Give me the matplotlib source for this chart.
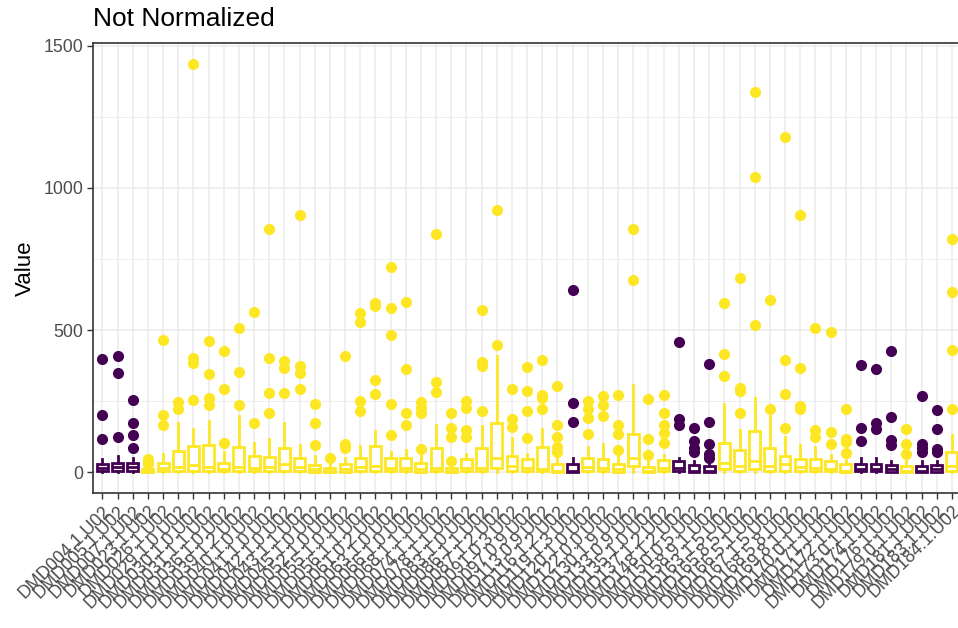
import numpy as np
import matplotlib.pyplot as plt
from matplotlib.ticker import MultipleLocator

# sample names (x axis)
samples = [
    "DMD004.1.U02", "DMD005.1.U02", "DMD007.1.U02", "DMD023.1.U02", "DMD026.1.U02",
    "DMD029.1.0.U02", "DMD030.1.0.U02", "DMD031.1.1.U02", "DMD036.1.0.U02", "DMD039.1.2.U02",
    "DMD040.1.0.U02", "DMD041.1.0.U02", "DMD042.1.0.U02", "DMD043.1.1.U02", "DMD045.1.0.U02",
    "DMD052.1.0.U02", "DMD055.1.0.U02", "DMD056.1.1.U02", "DMD061.0.2.U02", "DMD063.1.0.U02",
    "DMD066.1.0.U02", "DMD068.1.1.U02", "DMD074.1.1.U02", "DMD078.1.1.U02", "DMD083.1.0.U02",
    "DMD086.1.1.U02", "DMD087.1.2.U02", "DMD091.0.3.U02", "DMD097.0.9.U02", "DMD113.0.9.U02",
    "DMD116.1.2.U02", "DMD119.1.3.U02", "DMD120.1.0.U02", "DMD122.0.0.U02", "DMD130.1.9.U02",
    "DMD133.0.9.U02", "DMD135.1.0.U02", "DMD137.1.2.U02", "DMD148.1.2.U02", "DMD150.0.5.U02",
    "DMD158.9.1.U02", "DMD163.1.5.U02", "DMD165.8.5.U02", "DMD166.5.1.U02", "DMD167.1.5.U02",
    "DMD168.5.8.U02", "DMD169.8.1.U02", "DMD170.0.1.U02", "DMD171.1.U02", "DMD172.1.U02",
    "DMD173.0.1.U02", "DMD174.1.U02", "DMD176.1.U02", "DMD179.0.1.U02", "DMD181.1.U02",
    "DMD183.1.U02", "DMD184.1.U02",
]

# P = purple group, Y = yellow group
group = [
    "P", "P", "P", "Y", "Y", "Y", "Y", "Y", "Y", "Y",
    "Y", "Y", "Y", "Y", "Y", "Y", "Y", "Y", "Y", "Y",
    "Y", "Y", "Y", "Y", "Y", "Y", "Y", "Y", "Y", "Y",
    "Y", "P", "Y", "Y", "Y", "Y", "Y", "Y", "P", "P",
    "P", "Y", "Y", "Y", "Y", "Y", "Y", "Y", "Y", "Y",
    "P", "P", "P", "Y", "P", "P", "Y",
]

q1 = [5, 5, 5, 0, 3, 5, 5, 5, 3, 4, 4, 4, 5, 4, 2, 0, 2, 4, 5, 3,
      3, 2, 4, 0, 3, 4, 16, 4, 3, 4, 0, 0, 4, 3, 2, 22, 0, 3, 4, 0,
      0, 10, 5, 12, 4, 5, 4, 4, 3, 0, 3, 3, 2, 0, 0, 2, 5]
med = [15, 18, 18, 3, 14, 18, 25, 20, 12, 20, 14, 18, 28, 18, 10, 3, 10, 18, 22, 14,
       14, 10, 16, 3, 16, 16, 51, 22, 14, 12, 5, 5, 18, 14, 10, 51, 5, 14, 14, 5,
       5, 32, 22, 38, 22, 30, 18, 14, 12, 5, 12, 12, 10, 4, 5, 10, 22]
q3 = [28, 34, 34, 10, 32, 75, 92, 95, 34, 89, 57, 55, 86, 50, 26, 16, 28, 51, 92, 51,
      51, 32, 84, 14, 48, 86, 174, 57, 46, 89, 28, 28, 51, 46, 28, 136, 20, 42, 40, 25,
      22, 104, 77, 145, 84, 57, 46, 46, 40, 28, 28, 28, 25, 22, 22, 25, 72]
whis_hi = [48, 57, 51, 20, 63, 172, 151, 180, 71, 197, 104, 116, 172, 96, 57, 30, 51, 92, 147, 71,
           77, 60, 168, 30, 63, 162, 408, 122, 63, 151, 50, 51, 89, 100, 57, 308, 40, 60, 51, 40,
           35, 242, 148, 262, 197, 125, 95, 89, 60, 45, 51, 51, 40, 40, 40, 40, 130]
outliers = [
    [116, 200, 400], [125, 350, 410], [86, 132, 174, 256], [28, 38, 48], [165, 200, 466],
    [221, 248], [256, 384, 402, 1437], [238, 262, 347, 463], [104, 293, 425], [236, 353, 508],
    [172, 564], [207, 279, 403, 855], [279, 367, 390], [293, 349, 375, 904], [95, 172, 241],
    [51], [86, 100, 410], [215, 250, 527, 561], [276, 326, 585, 597], [131, 241, 484, 577, 722],
    [165, 209, 363, 600], [81, 209, 227, 246], [283, 319, 838], [40, 125, 157, 207], [125, 148, 227, 250],
    [217, 375, 388, 572], [448, 921], [160, 186, 293], [122, 215, 285, 370], [224, 262, 271, 396],
    [72, 88, 125, 165, 305], [176, 244, 641], [133, 192, 221, 250], [197, 238, 267], [78, 133, 168, 271],
    [676, 855], [60, 116, 258], [104, 139, 165, 207, 273], [165, 186, 458], [71, 86, 110, 157],
    [51, 63, 100, 176, 381], [338, 417, 596], [207, 285, 297, 683], [519, 1037, 1336], [221, 606],
    [157, 277, 396, 1181], [223, 232, 367, 904], [124, 148, 508], [98, 143, 492], [67, 107, 118, 221],
    [110, 157, 376], [151, 174, 364], [95, 113, 195, 425], [63, 98, 151], [71, 86, 100, 267],
    [71, 83, 153, 218], [224, 431, 634, 820],
]

palette = {"P": "#440154", "Y": "#FDE725"}

plt.rcParams['font.family'] = ['Liberation Sans', 'DejaVu Sans']

fig = plt.figure(figsize=(9.58, 6.28), dpi=100)
ax = fig.add_axes([0.0974, 0.2154, 0.9057, 0.7156])

for i in range(len(samples)):
    c = palette[group[i]]
    stat = dict(med=med[i], q1=q1[i], q3=q3[i], whislo=0, whishi=whis_hi[i], fliers=outliers[i])
    ax.bxp([stat], positions=[i], widths=0.72, patch_artist=True, showcaps=False,
           boxprops=dict(facecolor="white", edgecolor=c, linewidth=2.0),
           whiskerprops=dict(color=c, linewidth=2.0),
           medianprops=dict(color=c, linewidth=2.0),
           flierprops=dict(marker="o", markerfacecolor=c, markeredgecolor=c, markersize=7))

ymax = max(max(o) for o in outliers)
ax.set_xlim(-0.6, len(samples) - 0.4)
ax.set_ylim(-0.05 * ymax, 1.05 * ymax)

ax.set_yticks([0, 500, 1000, 1500])
ax.yaxis.set_minor_locator(MultipleLocator(250))
ax.set_xticks(range(len(samples)))
ax.set_xticklabels(samples, rotation=45, ha="right", va="top", rotation_mode="anchor")

ax.set_axisbelow(True)
ax.grid(which="major", color="#EBEBEB", linewidth=1.1)
ax.grid(which="minor", axis="y", color="#EBEBEB", linewidth=0.55)
ax.tick_params(which="minor", length=0)
ax.tick_params(which="major", length=4, width=1.0, color="#333333",
               labelsize=12.8, labelcolor="#4D4D4D", pad=3)
for s in ax.spines.values():
    s.set_color("#333333")
    s.set_linewidth(1.2)

fig.text(0.0974, 0.9586, "Not Normalized", fontsize=19, va="baseline", ha="left")
fig.text(0.026, 0.573, "Value", fontsize=16, rotation=90, va="center", ha="center")

fig.savefig("out.png", dpi=100)
